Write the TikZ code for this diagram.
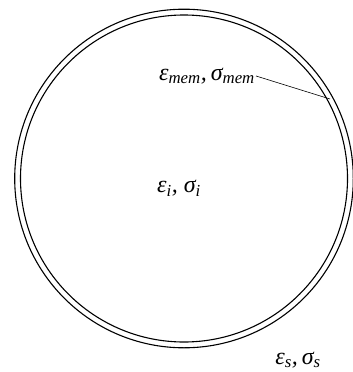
\documentclass[tikz,border=0pt]{standalone}
\usepackage{fontspec}
\setmainfont{Liberation Serif}
\usetikzlibrary{positioning}
\tikzset{
  wall/.style={draw, line width=1.1pt},
  lbl/.style={font=\fontsize{24}{28}\selectfont\itshape, inner sep=1pt}
}
\begin{document}
\begin{tikzpicture}[x=1pt,y=-1pt]
    \useasboundingbox (0,0) rectangle (353,372);
    % cell: outer and inner wall of the membrane
    \coordinate (c) at (184,178.5);
    \draw[wall] (c) circle[radius=169.3];
    \draw[wall] (c) circle[radius=163.5];

    \node[lbl] (inside) at (179,188) {ε\textsubscript{i},\ σ\textsubscript{i}};
    \node[lbl] (memlbl) at (207,76) {ε\textsubscript{mem},\,σ\textsubscript{mem}};
    \node[lbl] (outside) at (298,360) {ε\textsubscript{s},\,σ\textsubscript{s}};

    \coordinate (memb) at (330,99);
    \draw[line width=0.6pt] (memlbl.east) -- (memb);
  \end{tikzpicture}
\end{document}
